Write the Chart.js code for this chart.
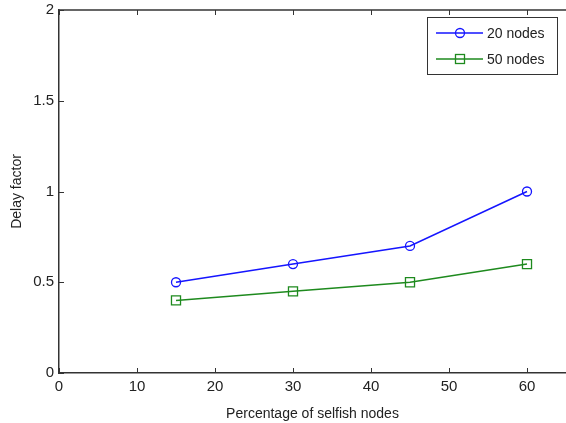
<html>
<head>
<title>Delay factor</title>
<script src="https://cdn.jsdelivr.net/npm/chart.js@4.4.0/dist/chart.umd.min.js"></script>
<style>
  body { margin: 0; background: #fff; }
  #wrap { position: relative; width: 566px; height: 423px; }
</style>
</head>
<body>
<div id="wrap"><canvas id="myChart" width="566" height="423"></canvas></div>
<script>
// data
var selfishPct = [15, 30, 45, 60];
var delay20 = [0.5, 0.6, 0.7, 1.0];
var delay50 = [0.4, 0.45, 0.5, 0.6];
var seriesNames = ["20 nodes", "50 nodes"];
var xTicks = [0, 10, 20, 30, 40, 50, 60];
var yTicks = [0, 0.5, 1, 1.5, 2];

function pts(xs, ys) {
  return xs.map(function (x, i) { return { x: x, y: ys[i] }; });
}

var axisColor = '#333';
var textColor = '#222';
var fontFam = '"Liberation Sans", Arial, sans-serif';

// matlab style frame: top edge, ticks pointing inward, plus legend box
// (the right edge of the box falls just outside the picture)
var framePlugin = {
  id: 'frame',
  afterDraw: function (chart) {
    var c = chart.ctx, a = chart.chartArea;
    var xs = chart.scales.x, ys = chart.scales.y;
    c.save();
    c.strokeStyle = axisColor;
    c.lineWidth = 1.5;
    c.beginPath();
    c.moveTo(a.left, a.top); c.lineTo(a.right, a.top);
    c.stroke();
    c.lineWidth = 1;
    c.beginPath();
    xTicks.forEach(function (t) {
      var px = Math.round(xs.getPixelForValue(t)) + 0.5;
      c.moveTo(px, a.bottom); c.lineTo(px, a.bottom - 5);
      c.moveTo(px, a.top); c.lineTo(px, a.top + 5);
    });
    yTicks.forEach(function (t) {
      var py = Math.round(ys.getPixelForValue(t)) + 0.5;
      c.moveTo(a.left, py); c.lineTo(a.left + 5, py);
    });
    c.stroke();

    // legend
    var bx = 427, by = 17, bw = 130, bh = 57;
    c.fillStyle = '#fff';
    c.fillRect(bx, by, bw, bh);
    c.strokeStyle = axisColor;
    c.lineWidth = 1;
    c.strokeRect(bx + 0.5, by + 0.5, bw, bh);
    chart.data.datasets.forEach(function (ds, i) {
      var ly = by + 16 + i * 26;
      c.strokeStyle = ds.borderColor;
      c.lineWidth = 1.3;
      c.beginPath();
      c.moveTo(bx + 9, ly); c.lineTo(bx + 56, ly);
      c.stroke();
      if (ds.pointStyle === 'rect') {
        c.strokeRect(bx + 28.5, ly - 4.5, 9, 9);
      } else {
        c.beginPath();
        c.arc(bx + 33, ly, 4.5, 0, Math.PI * 2);
        c.stroke();
      }
      c.fillStyle = textColor;
      c.font = '14px ' + fontFam;
      c.textBaseline = 'middle';
      c.textAlign = 'left';
      c.fillText(ds.label, bx + 60, ly + 1);
    });
    c.restore();
  }
};

var ctx = document.getElementById("myChart").getContext('2d');
var myChart = new Chart(ctx, {
  type: 'line',
  data: {
    datasets: [{
      label: seriesNames[0],
      data: pts(selfishPct, delay20),
      borderColor: '#1515ff',
      backgroundColor: 'rgba(0,0,0,0)',
      borderWidth: 1.5,
      pointStyle: 'circle',
      pointRadius: 4.5,
      pointBorderWidth: 1.3,
      pointBackgroundColor: 'rgba(0,0,0,0)',
      tension: 0
    }, {
      label: seriesNames[1],
      data: pts(selfishPct, delay50),
      borderColor: '#1e8a1e',
      backgroundColor: 'rgba(0,0,0,0)',
      borderWidth: 1.5,
      pointStyle: 'rect',
      pointRadius: 6.4,
      pointBorderWidth: 1.3,
      pointBackgroundColor: 'rgba(0,0,0,0)',
      tension: 0
    }]
  },
  options: {
    responsive: false,
    animation: false,
    layout: { autoPadding: false, padding: { top: 10, right: 0, left: 0, bottom: 0 } },
    plugins: {
      legend: { display: false },
      tooltip: { enabled: false }
    },
    scales: {
      x: {
        type: 'linear',
        min: 0, max: 65,
        afterBuildTicks: function (s) { s.ticks = xTicks.map(function (v) { return { value: v }; }); },
        afterFit: function (s) { s.height = 50; s.paddingLeft = 0; s.paddingRight = 0; },
        grid: { display: false, drawTicks: false },
        border: { display: true, color: axisColor, width: 1.5 },
        ticks: { color: textColor, padding: 5, font: { size: 15, family: fontFam } },
        title: { display: true, text: 'Percentage of selfish nodes', color: textColor, padding: { top: 3, bottom: 0 },
                 font: { size: 14, family: fontFam } }
      },
      y: {
        type: 'linear',
        min: 0, max: 2,
        afterBuildTicks: function (s) { s.ticks = yTicks.map(function (v) { return { value: v }; }); },
        afterFit: function (s) { s.width = 59; s.paddingTop = 0; s.paddingBottom = 0; },
        grid: { display: false, drawTicks: false },
        border: { display: true, color: axisColor, width: 1.5 },
        ticks: { color: textColor, padding: 5, font: { size: 15, family: fontFam },
                 callback: function (v) { return String(v); } },
        title: { display: true, text: 'Delay factor', color: textColor, padding: { top: 9, bottom: 0 },
                 font: { size: 14, family: fontFam } }
      }
    }
  },
  plugins: [framePlugin]
});
</script>
</body>
</html>
